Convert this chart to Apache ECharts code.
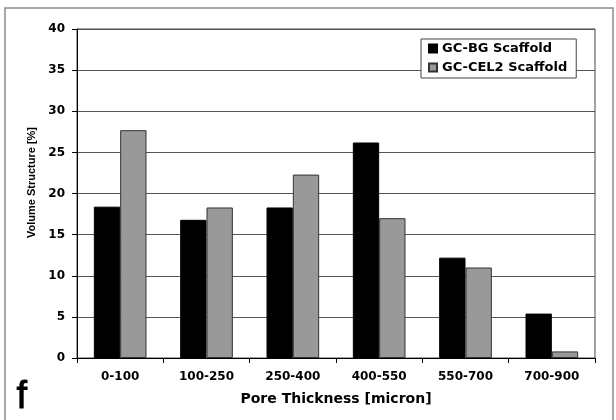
<!DOCTYPE html>
<html>
<head>
<meta charset="utf-8">
<script src="https://cdn.jsdelivr.net/npm/echarts@6/dist/echarts.min.js"></script>
<style>html,body{margin:0;padding:0;background:#fff;}#c{width:616px;height:420px;}</style>
</head>
<body>
<div id="c"></div>
<script>
const categories = ['0-100', '100-250', '250-400', '400-550', '550-700', '700-900'];
const gcBG = [18.4, 16.8, 18.3, 26.2, 12.2, 5.4];
const gcCEL2 = [27.7, 18.3, 22.3, 17.0, 11.0, 0.8];
const seriesNames = ['GC-BG Scaffold', 'GC-CEL2 Scaffold'];
const yMin = 0, yMax = 40, yStep = 5;

const chart = echarts.init(document.getElementById('c'), null, {renderer: 'canvas'});
const bold = 'DejaVu Sans';
chart.setOption({
  animation: false,
  backgroundColor: '#fff',
  graphic: [
    {type: 'rect', shape: {x: 5, y: 8, width: 608, height: 420}, style: {fill: 'none', stroke: '#8a8a8a', lineWidth: 1.5}, silent: true},
    {type: 'text', left: 16, top: 378, style: {text: 'f', font: '38px "Liberation Sans"', fill: '#000', stroke: '#000', lineWidth: 0.8}, silent: true}
  ],
  grid: {left: 77, right: 21, top: 29, bottom: 62, show: true, borderColor: '#444', borderWidth: 1, backgroundColor: 'transparent'},
  legend: {
    left: 421, top: 39, orient: 'vertical',
    data: seriesNames,
    backgroundColor: '#fff', borderColor: '#444', borderWidth: 1,
    padding: [3, 9, 4, 7], itemGap: 6, itemWidth: 8, itemHeight: 8,
    icon: 'rect',
    textStyle: {fontFamily: bold, fontWeight: 'bold', fontSize: 13, color: '#000'}
  },
  xAxis: {
    type: 'category', data: categories,
    name: 'Pore Thickness [micron]', nameLocation: 'middle', nameGap: 34,
    nameTextStyle: {fontFamily: bold, fontWeight: 'bold', fontSize: 14, color: '#000'},
    axisLine: {lineStyle: {color: '#000', width: 1}},
    axisTick: {show: true, length: 5, lineStyle: {color: '#000'}},
    axisLabel: {fontFamily: bold, fontWeight: 'bold', fontSize: 12, color: '#000', margin: 13}
  },
  yAxis: {
    type: 'value', min: yMin, max: yMax, interval: yStep,
    name: 'Volume Structure [%]', nameLocation: 'middle', nameGap: 36,
    nameTextStyle: {fontFamily: 'Liberation Sans', fontWeight: 'bold', fontSize: 11, color: '#000', padding: [0, 0, 0, 22]},
    axisLine: {show: true, lineStyle: {color: '#000', width: 1}},
    axisTick: {show: true, length: 5, lineStyle: {color: '#000'}},
    axisLabel: {fontFamily: bold, fontWeight: 'bold', fontSize: 12, color: '#000', margin: 12},
    splitLine: {show: true, lineStyle: {color: '#555', width: 1}}
  },
  series: [
    {name: seriesNames[0], type: 'bar', data: gcBG, barGap: '0%', barCategoryGap: '39%',
     itemStyle: {color: '#000', borderColor: '#000', borderWidth: 1}},
    {name: seriesNames[1], type: 'bar', data: gcCEL2, barGap: '0%', barCategoryGap: '39%',
     itemStyle: {color: '#999', borderColor: '#333', borderWidth: 1}}
  ]
});
</script>
</body>
</html>
